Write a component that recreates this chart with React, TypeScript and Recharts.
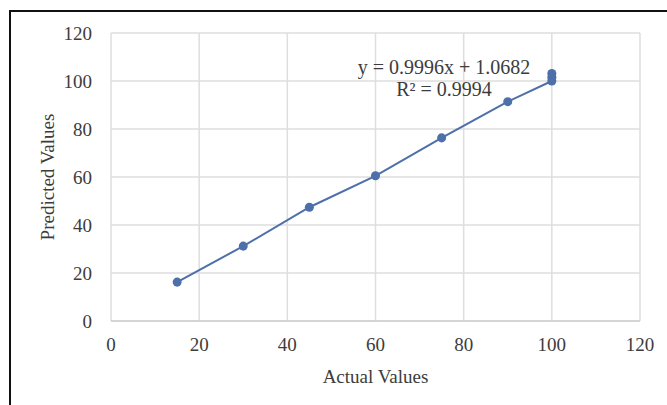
import React from 'react';
import { ScatterChart, Scatter, XAxis, YAxis, ZAxis, CartesianGrid } from 'recharts';

// values
const actualValues = [15, 30, 45, 60, 75, 90, 100];
const predictedValues = [16.2, 31.2, 47.4, 60.5, 76.3, 91.4, 100];
// extra repeated samples at x = 100 that sit above the line end
const extraActual = [100, 100];
const extraPredicted = [101.6, 103.1];

const xTicks = [0, 20, 40, 60, 80, 100, 120];
const yTicks = [0, 20, 40, 60, 80, 100, 120];

const equationText = 'y = 0.9996x + 1.0682';
const r2Text = 'R² = 0.9994';

const mainPoints = actualValues.map((x, i) => ({ x, y: predictedValues[i] }));
const extraPoints = extraActual.map((x, i) => ({ x, y: extraPredicted[i] }));

const FONT = '"Liberation Serif", "Times New Roman", serif';
const BLUE = '#4d70aa';
const TEXT = '#3c3c3c';
const tickStyle = { fontSize: 19, fill: TEXT, fontFamily: FONT };

export default function App() {
  return (
    <div style={{ position: 'absolute', left: 0, top: 0, width: 667, height: 405, overflow: 'hidden', background: '#fff' }}>
      {/* cropped frame: only left and top edges are visible */}
      <div
        style={{
          position: 'absolute',
          left: 9,
          top: 10,
          width: 700,
          height: 420,
          borderLeft: '2px solid #111',
          borderTop: '2px solid #111',
        }}
      />
      <ScatterChart width={667} height={405} margin={{ top: 33, right: 27, bottom: 0, left: 0 }}>
        <CartesianGrid stroke="#dedede" strokeWidth={1.5} />
        <XAxis
          type="number"
          dataKey="x"
          domain={[0, 120]}
          ticks={xTicks}
          tick={tickStyle}
          tickLine={false}
          tickSize={0}
          tickMargin={17}
          axisLine={{ stroke: '#cfcfcf', strokeWidth: 1.5 }}
          height={84}
          label={{
            value: 'Actual Values',
            position: 'insideBottom',
            offset: 22,
            style: { fontSize: 19, fill: TEXT, fontFamily: FONT },
          }}
        />
        <YAxis
          type="number"
          dataKey="y"
          domain={[0, 120]}
          ticks={yTicks}
          tick={tickStyle}
          tickLine={false}
          tickSize={0}
          tickMargin={19}
          axisLine={false}
          width={111}
          label={{
            content: (props: any) => {
              const vb = props.viewBox;
              const cx = vb.x + 47;
              const cy = vb.y + vb.height / 2;
              return (
                <text
                  x={cx}
                  y={cy}
                  transform={`rotate(-90 ${cx} ${cy})`}
                  textAnchor="middle"
                  dominantBaseline="central"
                  fontSize={19}
                  fill={TEXT}
                  fontFamily={FONT}
                >
                  Predicted Values
                </text>
              );
            },
          }}
        />
        <ZAxis range={[30, 30]} />
        <Scatter
          data={mainPoints}
          fill={BLUE}
          line={{ stroke: BLUE, strokeWidth: 2 }}
          isAnimationActive={false}
        />
        <Scatter data={extraPoints} fill={BLUE} isAnimationActive={false} />
      </ScatterChart>
      <div
        style={{
          position: 'absolute',
          left: 344,
          top: 56,
          width: 200,
          textAlign: 'center',
          fontFamily: FONT,
          fontSize: 20,
          lineHeight: '22px',
          color: TEXT,
        }}
      >
        <div>{equationText}</div>
        <div>{r2Text}</div>
      </div>
    </div>
  );
}
